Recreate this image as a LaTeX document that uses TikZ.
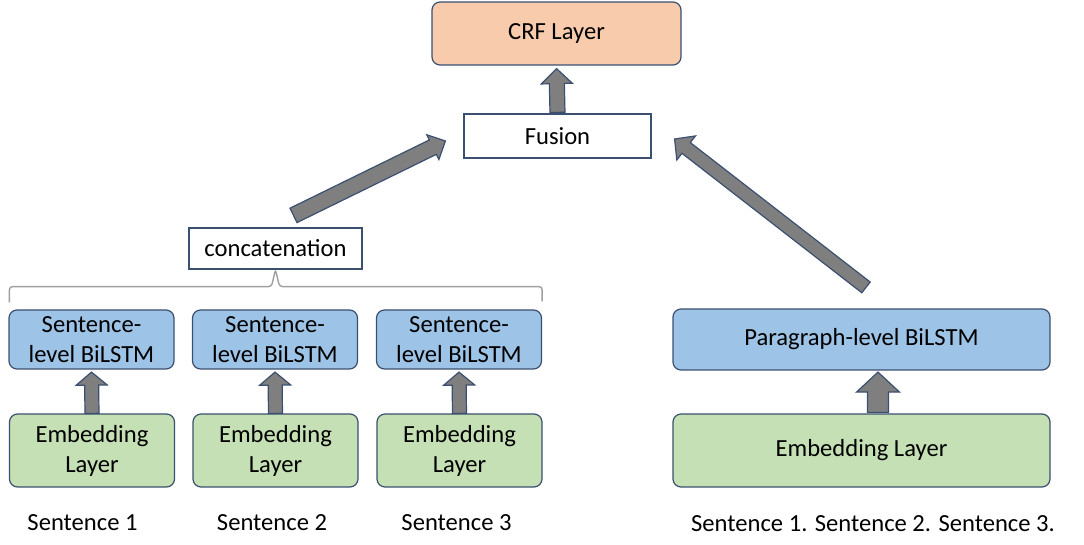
\documentclass[tikz,border=0pt]{standalone}
\usepackage{fontspec}
\setmainfont{Carlito}
\usetikzlibrary{calc}
\definecolor{Edge}{HTML}{3B5070}
\definecolor{Peach}{HTML}{F8CBAD}
\definecolor{Sky}{HTML}{9DC3E6}
\definecolor{Leaf}{HTML}{C5E0B4}
\definecolor{Shaft}{HTML}{7F7F7F}
\definecolor{Curl}{HTML}{A0A0A0}
\tikzset{box/.style={draw=Edge,line width=.6pt,rounded corners=4pt,align=center,inner sep=0pt,font=\fontsize{12.3}{15}\selectfont},plain/.style={box,rounded corners=0pt,fill=white},fat/.style={draw=Edge,fill=Shaft,line width=.6pt},lab/.style={font=\fontsize{12.3}{15}\selectfont},curl/.style={draw=Curl,line width=.7pt,rounded corners=1.5pt}}
% block arrow: tail, tip, half shaft, half head, head length
\newcommand\fatarrow[5]{%
\coordinate (neck) at ($(#2)!#5!(#1)$);
\draw[fat] ($(#1)!#3!90:(#2)$)--($(neck)!#3!90:(#2)$)--($(neck)!#4!90:(#2)$)--(#2)--($(neck)!#4!-90:(#2)$)--($(neck)!#3!-90:(#2)$)--($(#1)!#3!-90:(#2)$)--cycle;}

\begin{document}
\begin{tikzpicture}[x=.5pt,y=-.5pt]
\useasboundingbox (0,0) rectangle (1084,545);
\node[box,fill=Peach,minimum width=124.5pt,minimum height=31.5pt] (crf) at (556.5,33.5) {\raisebox{-1pt}{CRF Layer}};
\node[plain,minimum width=93.5pt,minimum height=22pt] (fusion) at (557.5,136) {Fusion};
\node[plain,minimum width=86.5pt,minimum height=20.5pt] (concat) at (275.5,248.5) {concatenation};
% sentence branch
\foreach \i/\x in {1/91.5,2/275,3/459}{
  \node[box,fill=Sky,minimum width=82.5pt,minimum height=29.5pt] (sl\i) at (\x,339.5) {Sentence-\\level BiLSTM};
  \node[box,fill=Leaf,minimum width=82.5pt,minimum height=36.5pt] (emb\i) at (\x+.5,450.5) {Embedding\\Layer};
  \fatarrow{emb\i.north}{$(sl\i.south)+(0,2.5)$}{3.5pt}{7.75pt}{6.5pt}
}
\node[lab] (s1) at (82.5,523) {Sentence 1};
\node[lab] (s2) at (272,523) {Sentence 2};
\node[lab] (s3) at (456.5,523) {Sentence 3};
\draw[curl] ($(sl1.north west)+(1,-7)$) |- ($(concat.south)+(-4,17)$) -- (concat.south) -- ($(concat.south)+(4,17)$) -| ($(sl3.north east)+(0,-8)$);
% paragraph branch
\node[box,fill=Sky,minimum width=188.5pt,minimum height=30.5pt] (para) at (861.5,339.5) {Paragraph-level BiLSTM};
\node[box,fill=Leaf,minimum width=188.5pt,minimum height=36.5pt] (embp) at (861.5,450.5) {Embedding Layer};
\node[lab] (sall) at (873,524) {Sentence 1. Sentence 2. Sentence 3.};
\fatarrow{$(embp.north)+(16.5,-1)$}{$(para.south)+(16.5,1.5)$}{5.25pt}{10.75pt}{10pt}
% into fusion and crf
\coordinate (lt) at ($(concat.north)+(18,-12)$);
\coordinate (lh) at ($(fusion.west)+(-18,5)$);
\coordinate (rt) at ($(para.north)+(4.5,-21)$);
\coordinate (rh) at ($(fusion.east)+(23,3)$);
\fatarrow{lt}{lh}{4pt}{6.9pt}{7pt}
\fatarrow{rt}{rh}{3.4pt}{7.6pt}{7.3pt}
\fatarrow{$(fusion.north)+(0,-1)$}{$(crf.south)+(0,3)$}{3.75pt}{7.75pt}{7.5pt}
\end{tikzpicture}
\end{document}
